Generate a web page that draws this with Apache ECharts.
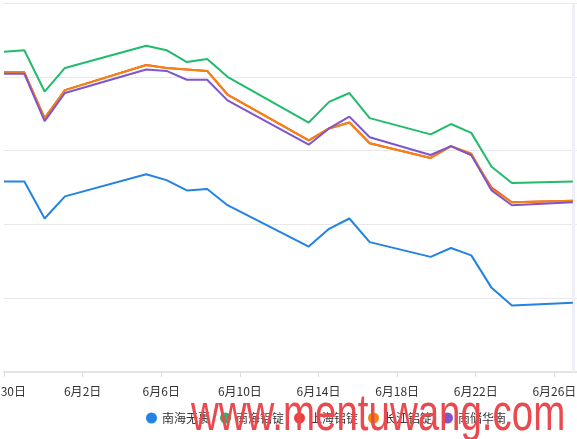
<!DOCTYPE html>
<html><head><meta charset="utf-8">
<script src="https://cdn.jsdelivr.net/npm/echarts@6/dist/echarts.min.js"></script>
<style>html,body{margin:0;padding:0;background:#fff;}#c{width:577px;height:439px;}</style>
</head><body><div id="c"></div>
<script>
// ---- data ----
const dates = ['2022-05-30','2022-05-31','2022-06-01','2022-06-02','2022-06-06','2022-06-07','2022-06-08','2022-06-09','2022-06-10','2022-06-14','2022-06-15','2022-06-16','2022-06-17','2022-06-20','2022-06-21','2022-06-22','2022-06-23','2022-06-24','2022-06-27'];
const seriesNames = ['南海无裹','南海铝锭','上海铝锭','长江铝锭','南储华南'];
const nanhaiWu   = [19790,19790,19540,19690,19840,19800,19730,19740,19630,19350,19470,19540,19380,19280,19340,19290,19070,18950,18970];
const nanhaiLv   = [20670,20680,20400,20560,20710,20680,20600,20620,20500,20190,20330,20390,20220,20110,20180,20120,19890,19780,19790];
const shanghaiLv = [20530,20530,20220,20410,20580,20560,20550,20540,20380,20070,20150,20190,20050,19950,20030,19970,19750,19650,19660];
const changjiang = [20530,20530,20220,20410,20580,20560,20550,20540,20380,20070,20150,20190,20050,19950,20030,19980,19740,19650,19660];
const nanchu     = [20520,20520,20200,20390,20550,20540,20480,20480,20340,20040,20150,20230,20090,19970,20030,19970,19730,19630,19650];
const tickLabels = ['5月30日','6月2日','6月6日','6月10日','6月14日','6月18日','6月22日','6月26日'];

// ---- build ----
const DAY = 86400000;
const t0 = Date.parse(dates[0]);
const xs = dates.map(d => (Date.parse(d) - t0) / DAY);
const TICK = 3.87;
const colors = ['#2283e2','#21bb6c','#f23c3c','#f4840e','#7f55cc'];
const valueSets = [nanhaiWu, nanhaiLv, shanghaiLv, changjiang, nanchu];
const FONT = '"Noto Sans CJK SC", "Microsoft YaHei", sans-serif';

const series = seriesNames.map((name, i) => {
  const s = {
    name, type: 'line', showSymbol: false, symbol: 'circle', symbolSize: 8,
    color: colors[i],
    lineStyle: { width: 2, color: colors[i] },
    data: xs.map((x, k) => [x, valueSets[i][k]])
  };
  if (i === 0) {
    s.markLine = {
      silent: true, symbol: 'none', z: 1, animation: false,
      label: { show: false },
      lineStyle: { color: '#eef0f5', width: 3, type: 'solid' },
      data: [{ xAxis: xs[xs.length - 1] }]
    };
  }
  return s;
});

const chart = echarts.init(document.getElementById('c'), null, { renderer: 'canvas' });
chart.setOption({
  animation: false,
  textStyle: { fontFamily: FONT },
  grid: { left: 4, right: -56, top: 3, bottom: 67, containLabel: false, outerBoundsMode: 'none' },
  xAxis: {
    type: 'value', min: 0, max: TICK * 8, interval: TICK,
    axisLine: { show: true, lineStyle: { color: '#e3e3e3', width: 2 } },
    axisTick: { show: true, length: 5, lineStyle: { color: '#dcdcdc' } },
    splitLine: { show: false },
    axisLabel: {
      margin: 13, color: '#333', fontSize: 12, fontFamily: FONT, hideOverlap: false,
      formatter: v => { const k = Math.round(v / TICK); return Math.abs(v - k * TICK) < 0.01 ? (tickLabels[k] || '') : ''; }
    }
  },
  yAxis: {
    type: 'value', min: 18500, max: 21000, interval: 500,
    axisLabel: { show: false }, axisLine: { show: false }, axisTick: { show: false },
    splitLine: { lineStyle: { color: '#e8e8e8', width: 1 } }
  },
  legend: {
    data: seriesNames, left: 141, top: 407, icon: 'circle',
    itemWidth: 11, itemHeight: 11, itemGap: 10,
    textStyle: { fontSize: 12, color: '#333', fontFamily: FONT }
  },
  series,
  graphic: [{
    type: 'text', x: 191, y: 416, scaleX: 0.74, z: 100, silent: true,
    style: { text: 'www.mentuwang.com', fill: '#ea4a4f', font: '52px "Liberation Sans", Arial, sans-serif', verticalAlign: 'middle', align: 'left' }
  }]
});
</script></body></html>
